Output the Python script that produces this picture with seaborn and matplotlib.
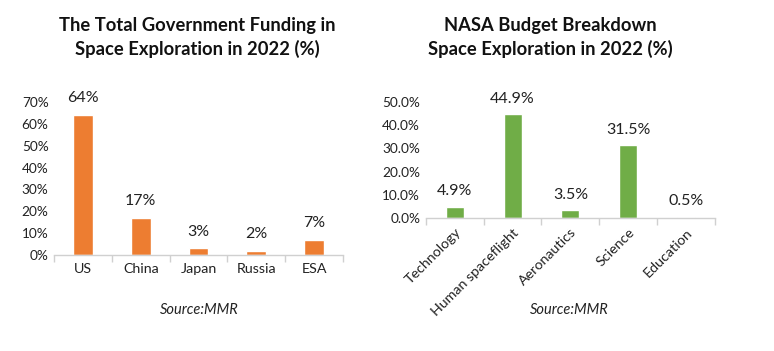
import numpy as np
import pandas as pd
import matplotlib.pyplot as plt
import seaborn as sns
from matplotlib.ticker import PercentFormatter

# === data ===
countries = ["US", "China", "Japan", "Russia", "ESA"]
funding_pct = [64, 17, 3, 2, 7]

nasa_items = ["Technology", "Human spaceflight", "Aeronautics", "Science", "Education"]
nasa_pct = [4.9, 44.9, 3.5, 31.5, 0.5]

left_title = "The Total Government Funding in\nSpace Exploration in 2022 (%)"
right_title = "NASA Budget Breakdown\nSpace Exploration in 2022 (%)"
source_text = "Source:MMR"

orange = "#ED7D31"
green = "#70AD47"

sns.set_theme(style="white")
plt.rcParams["font.family"] = ["Lato", "DejaVu Sans"]

fig = plt.figure(figsize=(7.74, 3.51), dpi=100)
ax1 = fig.add_axes([0.070, 0.2735, 0.373, 0.436])
ax2 = fig.add_axes([0.550, 0.379, 0.374, 0.330])


def style_axis(ax, n):
    sns.despine(ax=ax, left=True)
    ax.spines["bottom"].set_color("#d0d0d0")
    ax.spines["bottom"].set_linewidth(1)
    ax.set_xlim(-0.5, n - 0.5)
    ax.set_xticks(np.arange(-0.5, n, 1), minor=True)
    ax.tick_params(axis="x", which="minor", length=5, color="#d0d0d0", width=1, bottom=True)
    ax.tick_params(axis="x", which="major", length=0, labelsize=10.3, pad=6, colors="#222222")
    ax.tick_params(axis="y", length=0, labelsize=9.8, pad=4, colors="#222222")
    ax.set_xlabel("")
    ax.set_ylabel("")


# === left chart ===
df1 = pd.DataFrame({"country": countries, "pct": funding_pct})
sns.barplot(data=df1, x="country", y="pct", color=orange, saturation=1,
            width=0.34, ax=ax1)
ax1.set_ylim(0, 70)
ax1.set_yticks(np.arange(0, 71, 10))
ax1.yaxis.set_major_formatter(PercentFormatter(decimals=0))
style_axis(ax1, len(countries))
for i, v in enumerate(funding_pct):
    ax1.annotate(f"{v}%", (i, v), xytext=(0, 7), textcoords="offset points",
                 ha="center", va="bottom", fontsize=11.5, color="#222222",
                 annotation_clip=False)

# === right chart ===
df2 = pd.DataFrame({"item": nasa_items, "pct": nasa_pct})
sns.barplot(data=df2, x="item", y="pct", color=green, saturation=1,
            width=0.31, ax=ax2)
ax2.set_ylim(0, 50)
ax2.set_yticks(np.arange(0, 51, 10))
ax2.yaxis.set_major_formatter(PercentFormatter(decimals=1))
style_axis(ax2, len(nasa_items))
plt.setp(ax2.get_xticklabels(), rotation=45, ha="right", rotation_mode="anchor")
for i, v in enumerate(nasa_pct):
    ax2.annotate(f"{v}%", (i, v), xytext=(0, 6), textcoords="offset points",
                 ha="center", va="bottom", fontsize=11.5, color="#222222",
                 annotation_clip=False)

# === titles and source ===
fig.text(0.255, 0.893, left_title, ha="center", va="center", fontsize=13.2,
         fontweight="bold", linespacing=1.35, color="#111111")
fig.text(0.711, 0.893, right_title, ha="center", va="center", fontsize=13.2,
         fontweight="bold", linespacing=1.35, color="#111111")
fig.text(0.257, 0.117, source_text, ha="center", va="center", fontsize=10.5,
         style="italic", color="#222222")
fig.text(0.735, 0.117, source_text, ha="center", va="center", fontsize=10.5,
         style="italic", color="#222222")

fig.savefig("out.png", dpi=100)
